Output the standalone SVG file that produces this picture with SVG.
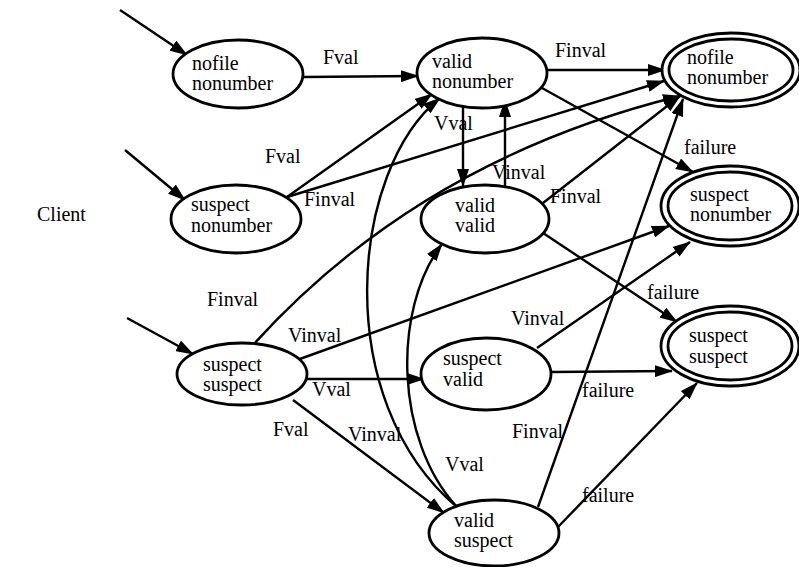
<svg xmlns="http://www.w3.org/2000/svg" width="799" height="567" viewBox="0 0 799 567">
<style>
text{font-family:"Liberation Serif","Times New Roman",serif;font-size:20px;fill:#000}
.n{fill:#fff;stroke:#000;stroke-width:2.8}
.e{fill:none;stroke:#000;stroke-width:2.4;marker-end:url(#a)}
</style>
<defs>
<marker id="a" viewBox="0 0 18 12" refX="17" refY="6" markerWidth="18" markerHeight="12" markerUnits="userSpaceOnUse" orient="auto">
<path d="M0,0 L18,6 L0,12 z" fill="#000"/>
</marker>
</defs>
<rect width="799" height="567" fill="#fff"/>
<g id="connectors">
<line class="e" x1="120" y1="10" x2="187" y2="55"/>
<line class="e" x1="125" y1="150" x2="185" y2="200"/>
<line class="e" x1="127" y1="318" x2="193" y2="354"/>
<line class="e" x1="303" y1="77" x2="418" y2="76"/>
<line class="e" x1="547" y1="70" x2="665" y2="70"/>
<line class="e" x1="287" y1="197" x2="432" y2="94"/>
<line class="e" x1="287" y1="197" x2="664" y2="81"/>
<line class="e" x1="463" y1="104" x2="463" y2="186"/>
<line class="e" x1="505" y1="186" x2="505" y2="100"/>
<line class="e" x1="542" y1="88" x2="693" y2="172"/>
<line class="e" x1="543" y1="203" x2="680" y2="96"/>
<line class="e" x1="543" y1="233" x2="677" y2="322"/>
<path class="e" d="M253,345 Q420,160 680,96"/>
<line class="e" x1="297" y1="360" x2="669" y2="226"/>
<line class="e" x1="307" y1="379" x2="424" y2="379"/>
<line class="e" x1="293" y1="400" x2="444" y2="513"/>
<line class="e" x1="537" y1="348" x2="690" y2="242"/>
<line class="e" x1="551" y1="372" x2="672" y2="371"/>
<line class="e" x1="538" y1="507" x2="683" y2="99"/>
<line class="e" x1="558" y1="527" x2="697" y2="383"/>
<path class="e" d="M457,507 C395,440 392,310 442,244"/>
<path class="e" d="M457,507 C330,400 350,170 440,98"/>
</g>
<g id="labels">
<text x="323" y="64">Fval</text>
<text x="555" y="57">Finval</text>
<text x="265" y="163">Fval</text>
<text x="304" y="206">Finval</text>
<text x="434" y="130">Vval</text>
<text x="492" y="179">Vinval</text>
<text x="684" y="154">failure</text>
<text x="550" y="203">Finval</text>
<text x="647" y="299">failure</text>
<text x="207" y="306">Finval</text>
<text x="288" y="342">Vinval</text>
<text x="312" y="396">Vval</text>
<text x="273" y="436">Fval</text>
<text x="348" y="441">Vinval</text>
<text x="511" y="325">Vinval</text>
<text x="582" y="397">failure</text>
<text x="512" y="438">Finval</text>
<text x="445" y="471">Vval</text>
<text x="582" y="502">failure</text>
<text x="37" y="221">Client</text>
</g>
<g id="start-nofile-nonumber">
<ellipse class="n" cx="238" cy="74" rx="65" ry="34"/>
<text x="192" y="70">nofile</text><text x="192" y="90">nonumber</text>
</g>
<g id="start-suspect-nonumber">
<ellipse class="n" cx="236" cy="219" rx="65" ry="34"/>
<text x="191" y="211">suspect</text><text x="191" y="232">nonumber</text>
</g>
<g id="start-suspect-suspect">
<ellipse class="n" cx="242" cy="374" rx="65" ry="31"/>
<text x="203" y="371">suspect</text><text x="203" y="391">suspect</text>
</g>
<g id="valid-nonumber">
<ellipse class="n" cx="482" cy="73" rx="65" ry="35"/>
<text x="432" y="68">valid</text><text x="432" y="88">nonumber</text>
</g>
<g id="valid-valid">
<ellipse class="n" cx="485" cy="219" rx="64" ry="34"/>
<text x="455" y="212">valid</text><text x="455" y="232">valid</text>
</g>
<g id="suspect-valid">
<ellipse class="n" cx="486" cy="374" rx="65" ry="36"/>
<text x="443" y="365">suspect</text><text x="443" y="386">valid</text>
</g>
<g id="valid-suspect">
<ellipse class="n" cx="494" cy="533" rx="65" ry="33"/>
<text x="454" y="527">valid</text><text x="454" y="547">suspect</text>
</g>
<g id="final-nofile-nonumber">
<ellipse class="n" cx="731" cy="70" rx="69" ry="37"/>
<ellipse class="n" cx="731" cy="70" rx="62" ry="31"/>
<text x="687" y="64">nofile</text><text x="687" y="84">nonumber</text>
</g>
<g id="final-suspect-nonumber">
<ellipse class="n" cx="730" cy="206" rx="69" ry="40"/>
<ellipse class="n" cx="730" cy="206" rx="62" ry="34"/>
<text x="690" y="201">suspect</text><text x="690" y="221">nonumber</text>
</g>
<g id="final-suspect-suspect">
<ellipse class="n" cx="730" cy="346" rx="69" ry="40"/>
<ellipse class="n" cx="730" cy="346" rx="62" ry="34"/>
<text x="689" y="342">suspect</text><text x="689" y="363">suspect</text>
</g>
</svg>
